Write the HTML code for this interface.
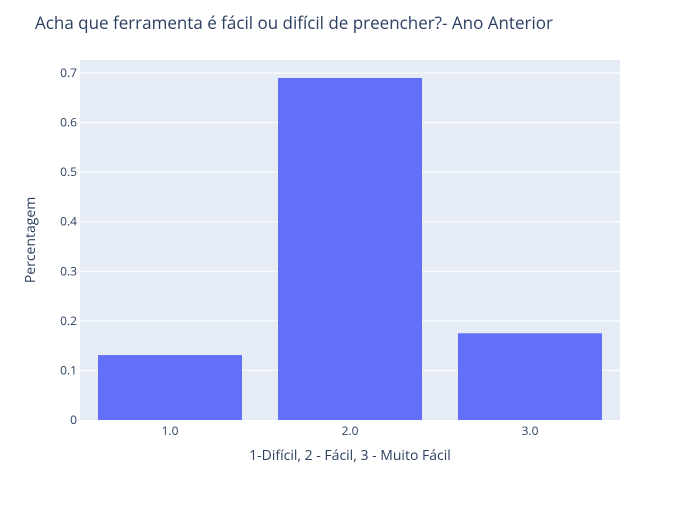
<!DOCTYPE html>
<html><head><meta charset="utf-8"><style>
body{margin:0;background:#fff;}
svg text{font-family:"Open Sans","Liberation Sans",sans-serif;}
</style></head><body>
<svg id="chart" width="700" height="500">
<rect x="0" y="0" width="700" height="500" fill="#fff"/>
<rect x="80" y="60" width="540" height="360" fill="#e5ecf6"/>
<g id="grid"></g><g id="bars"></g><g id="ticks"></g>
<text x="35" y="29" font-size="17" fill="#2a3f5f">Acha que ferramenta é fácil ou difícil de preencher?- Ano Anterior</text>
<text x="350" y="460" font-size="14" fill="#2a3f5f" text-anchor="middle">1-Difícil, 2 - Fácil, 3 - Muito Fácil</text>
<text transform="translate(35,240) rotate(-90)" font-size="14" fill="#2a3f5f" text-anchor="middle">Percentagem</text>
</svg>
<script>
const categories=["1.0","2.0","3.0"];
const values=[0.131,0.690,0.175];
const yTicks=[0,0.1,0.2,0.3,0.4,0.5,0.6,0.7];
const yTickLabels=["0","0.1","0.2","0.3","0.4","0.5","0.6","0.7"];
const NS="http://www.w3.org/2000/svg";
const x0=80,w=540,yb=420,ymax=0.7263,h=360;
const y=v=>yb-v/ymax*h;
const band=w/categories.length;
const xc=i=>x0+band*(i+0.5);
function mk(t,a,p){const e=document.createElementNS(NS,t);for(const k in a)e.setAttribute(k,a[k]);p.appendChild(e);return e;}
const grid=document.getElementById('grid'),bars=document.getElementById('bars'),ticks=document.getElementById('ticks');
yTicks.forEach((v,i)=>{
 if(v>0){const l=mk('line',{x1:x0,x2:x0+w,y1:y(v),y2:y(v),stroke:'#fff','stroke-width':1},grid);
 
 }
 const t=mk('text',{x:x0-3,y:y(v)+4,'font-size':12,fill:'#2a3f5f','text-anchor':'end'},ticks);
 t.textContent=yTickLabels[i];
 
 
});
categories.forEach((c,i)=>{
 const bw=band*0.8;
 const r=mk('rect',{x:xc(i)-bw/2,y:y(values[i]),width:bw,height:yb-y(values[i]),fill:'#636efa'},bars);
 
 
 const t=mk('text',{x:xc(i),y:yb+15,'font-size':12,fill:'#2a3f5f','text-anchor':'middle'},ticks);
 t.textContent=c;
 
 
});
</script>
</body></html>
